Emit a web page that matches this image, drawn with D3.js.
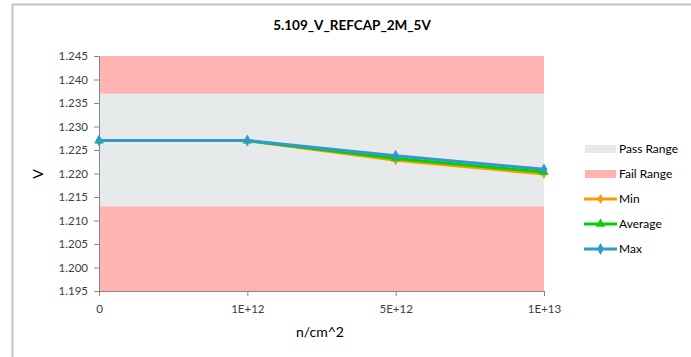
<!DOCTYPE html>
<html>
<head>
<meta charset="utf-8">
<script src="https://cdn.jsdelivr.net/npm/d3@7"></script>
<style>
  body { margin: 0; background: #fff; }
  text { font-family: Lato, "Open Sans", sans-serif; }
</style>
</head>
<body>
<svg id="chart"></svg>
<script>
const width = 691, height = 357;

// data
const categories = ["0", "1E+12", "5E+12", "1E+13"];
const minValues = [1.227, 1.227, 1.2228, 1.2199];
const avgValues = [1.227, 1.227, 1.2232, 1.2203];
const maxValues = [1.227, 1.227, 1.2238, 1.2209];
const passRange = [1.213, 1.237];
const yDomain = [1.195, 1.245];
const yTicks = [1.195, 1.200, 1.205, 1.210, 1.215, 1.220, 1.225, 1.230, 1.235, 1.240, 1.245];

const plot = { left: 99, right: 544, top: 56, bottom: 291 };

const svg = d3.select("#chart")
    .attr("width", width)
    .attr("height", height);

// outer frame
svg.append("rect")
    .attr("x", 12.5).attr("y", 4.5)
    .attr("width", width + 10).attr("height", height + 10)
    .attr("fill", "none")
    .attr("stroke", "#c4c4c4")
    .attr("stroke-width", 2);

const x = d3.scalePoint().domain(categories).range([plot.left, plot.right]);
const y = d3.scaleLinear().domain(yDomain).range([plot.bottom, plot.top]);

// fail range background, then pass band
svg.append("rect")
    .attr("x", plot.left).attr("y", y(yDomain[1]))
    .attr("width", plot.right - plot.left)
    .attr("height", y(yDomain[0]) - y(yDomain[1]))
    .attr("fill", "#ffb3b3");

svg.append("rect")
    .attr("x", plot.left).attr("y", y(passRange[1]))
    .attr("width", plot.right - plot.left)
    .attr("height", y(passRange[0]) - y(passRange[1]))
    .attr("fill", "#e6eaea");

// axes
const yAxis = svg.append("g")
    .attr("transform", `translate(${plot.left},0)`)
    .call(d3.axisLeft(y).tickValues(yTicks).tickFormat(d3.format(".3f")).tickSize(5).tickPadding(6));

const xAxis = svg.append("g")
    .attr("transform", `translate(0,${plot.bottom})`)
    .call(d3.axisBottom(x).tickSize(5).tickPadding(9));

[yAxis, xAxis].forEach(a => {
    a.select(".domain").attr("stroke", "#868686");
    a.selectAll(".tick line").attr("stroke", "#868686");
    a.selectAll(".tick text").attr("fill", "#404040").style("font-size", "11.5px")
        .style("font-family", "Lato, sans-serif");
});

// series
const series = [
    { name: "Min", values: minValues, color: "#ff9900", marker: d3.symbolDiamond, size: 30 },
    { name: "Average", values: avgValues, color: "#00d400", marker: d3.symbolTriangle, size: 40 },
    { name: "Max", values: maxValues, color: "#3399cc", marker: d3.symbolDiamond, size: 40 }
];

const line = d3.line()
    .x((d, i) => x(categories[i]))
    .y(d => y(d));

series.forEach(s => {
    svg.append("path")
        .attr("d", line(s.values))
        .attr("fill", "none")
        .attr("stroke", s.color)
        .attr("stroke-width", 3);
    svg.append("g").selectAll("path")
        .data(s.values)
        .join("path")
        .attr("transform", (d, i) => `translate(${x(categories[i])},${y(d)})`)
        .attr("d", d3.symbol().type(s.marker).size(s.size))
        .attr("fill", s.color);
});

// title and axis labels
svg.append("text")
    .attr("x", 352).attr("y", 30)
    .attr("text-anchor", "middle")
    .style("font-size", "13.5px").style("font-weight", "bold")
    .attr("fill", "#000")
    .text("5.109_V_REFCAP_2M_5V");

svg.append("text")
    .attr("transform", "translate(43,174) rotate(-90)")
    .attr("text-anchor", "middle")
    .style("font-size", "14px")
    .attr("fill", "#000")
    .text("V");

svg.append("text")
    .attr("x", 320).attr("y", 337)
    .attr("text-anchor", "middle")
    .style("font-size", "14px")
    .attr("fill", "#000")
    .text("n/cm^2");

// legend
const legend = svg.append("g").attr("transform", "translate(584,0)");
const legendRows = [
    { name: "Pass Range", type: "box", color: "#e6eaea", y: 149 },
    { name: "Fail Range", type: "box", color: "#ffb3b3", y: 174 },
    { name: series[0].name, type: "line", s: series[0], y: 199 },
    { name: series[1].name, type: "line", s: series[1], y: 224 },
    { name: series[2].name, type: "line", s: series[2], y: 249 }
];
legendRows.forEach(r => {
    if (r.type === "box") {
        legend.append("rect")
            .attr("x", 1).attr("y", r.y - 4)
            .attr("width", 31).attr("height", 8)
            .attr("fill", r.color);
    } else {
        legend.append("line")
            .attr("x1", 0).attr("x2", 33)
            .attr("y1", r.y).attr("y2", r.y)
            .attr("stroke", r.s.color).attr("stroke-width", 3);
        legend.append("path")
            .attr("transform", `translate(16.5,${r.y})`)
            .attr("d", d3.symbol().type(r.s.marker).size(r.s.size))
            .attr("fill", r.s.color);
    }
    legend.append("text")
        .attr("x", 35).attr("y", r.y + 4)
        .style("font-size", "12px")
        .attr("fill", "#000")
        .text(r.name);
});
</script>
</body>
</html>
